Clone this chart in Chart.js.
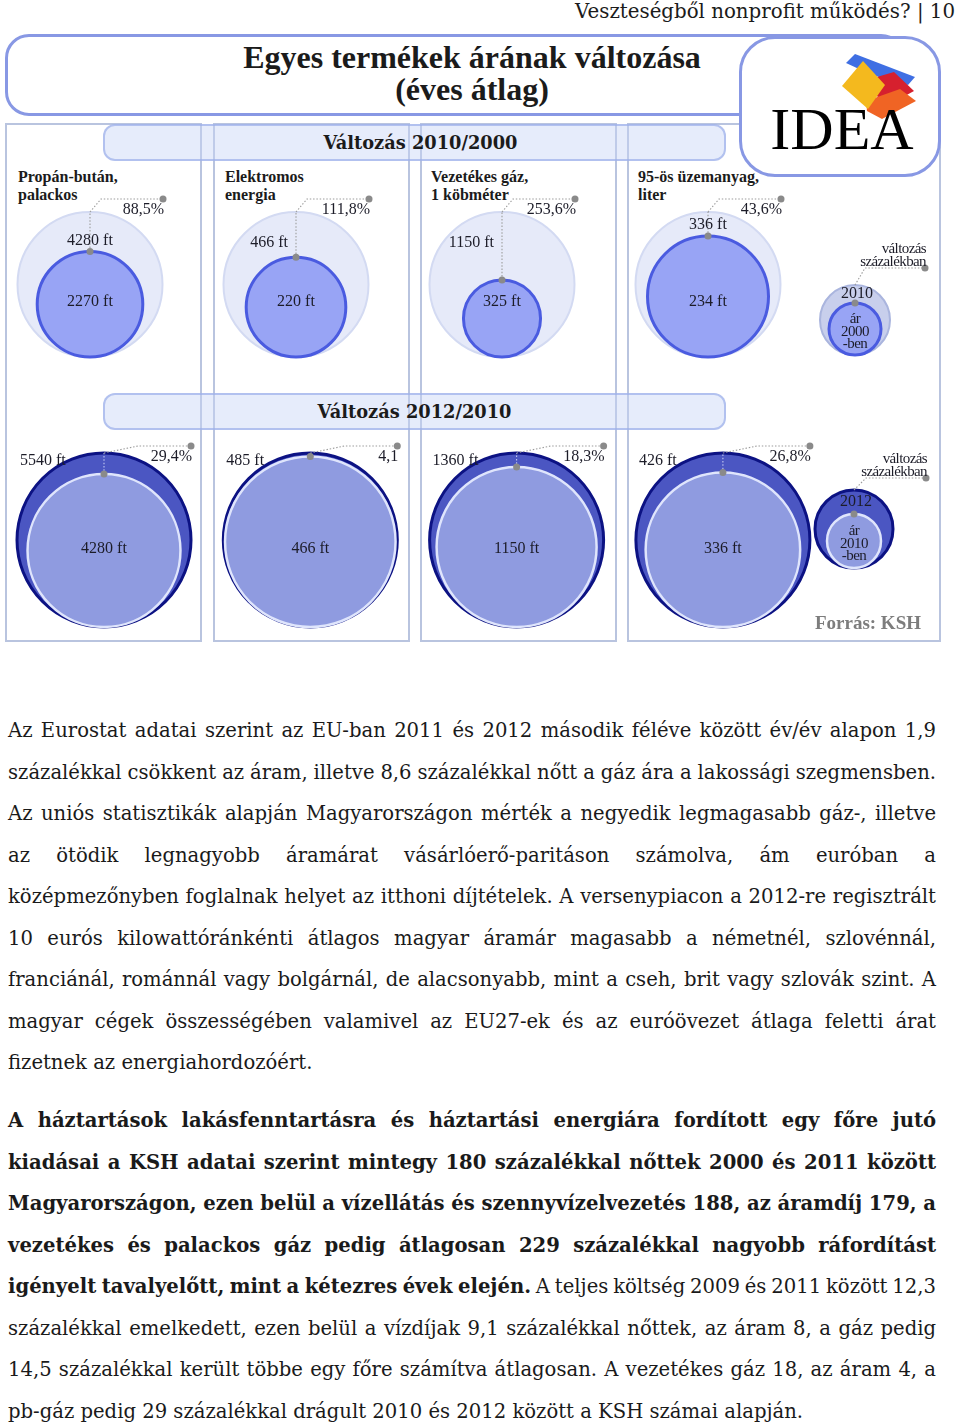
<!DOCTYPE html>
<html>
<head>
<meta charset="utf-8">
<script src="https://cdn.jsdelivr.net/npm/chart.js@4.4.0/dist/chart.umd.min.js"></script>
<style>
body{margin:0;background:#fff;}
#page{position:relative;width:960px;height:1425px;overflow:hidden;font-family:"Liberation Serif","DejaVu Serif",serif;color:#1b1b1b;}
.panel{position:absolute;top:123px;height:519px;border:2px solid #b9c4df;box-sizing:border-box;z-index:1;}
.band{position:absolute;left:103px;width:623px;height:37px;border:2px solid rgba(150,170,232,.65);background:rgba(200,212,246,.45);border-radius:12px;box-sizing:border-box;font-family:"DejaVu Serif",serif;font-weight:bold;font-size:17.8px;line-height:33px;text-align:center;z-index:3;}
.ptitle{position:absolute;top:168px;font-weight:bold;font-size:16px;line-height:18px;white-space:pre;z-index:2;}
.txt{position:absolute;left:8px;width:928px;font-family:"DejaVu Serif",serif;font-size:19.6px;line-height:41.5px;color:#1a1a1a;}
.txt div{white-space:nowrap;}
canvas{position:absolute;left:0;z-index:4;}
</style>
</head>
<body>
<div id="page">
  <div style="position:absolute;right:5px;top:0;font-family:'DejaVu Serif',serif;font-size:19.8px;line-height:24px;">Veszteségből nonprofit működés? | 10</div>

  <div style="position:absolute;left:5px;top:34px;width:900px;height:82px;border:3px solid #8898e4;border-radius:24px;box-sizing:border-box;background:#fff;z-index:5;"></div>
  <div style="position:absolute;left:5px;top:41px;width:934px;text-align:center;font-weight:bold;font-size:32px;line-height:32px;z-index:6;">Egyes termékek árának változása<br>(éves átlag)</div>

  <div style="position:absolute;left:739px;top:36px;width:202px;height:141px;border:3px solid #8898e4;border-radius:36px;box-sizing:border-box;background:#fff;z-index:7;">
    <div style="position:absolute;left:0;top:0;width:200px;height:100px;">
      <div style="position:absolute;inset:0;background:#3f6fe3;clip-path:polygon(104px 24px,113px 15px,173px 38px,166px 46px,130px 36px);"></div>
      <div style="position:absolute;inset:0;background:#d6202e;clip-path:polygon(128px 40px,152px 33px,172px 52px,150px 64px,132px 56px);"></div>
      <div style="position:absolute;inset:0;background:#f06424;clip-path:polygon(124px 62px,158px 50px,174px 62px,140px 80px,125px 72px);"></div>
      <div style="position:absolute;inset:0;background:#f4b91e;clip-path:polygon(100px 47px,121px 22px,143px 46px,126px 70px);"></div>
    </div>
    <div style="position:absolute;left:0;top:58px;width:200px;text-align:center;font-size:60px;line-height:64px;color:#000;">IDEA</div>
  </div>

  <div class="panel" style="left:5px;width:197px;"></div>
  <div class="panel" style="left:213px;width:197px;"></div>
  <div class="panel" style="left:420px;width:197px;"></div>
  <div class="panel" style="left:627px;width:314px;"></div>

  <div class="band" style="top:124px;padding-left:12px;">Változás 2010/2000</div>
  <div class="band" style="top:393px;">Változás 2012/2010</div>

  <div id="titles"></div>

  <canvas id="c1" width="960" height="215" style="top:165px;"></canvas>
  <canvas id="c2" width="960" height="210" style="top:435px;"></canvas>

  <div style="position:absolute;right:39px;top:611px;font-weight:bold;font-size:19px;line-height:24px;color:#7d7d7d;z-index:5;">Forrás: KSH</div>

  <div class="txt" style="top:710px;">
    <div class="j"><span>Az Eurostat adatai szerint az EU-ban 2011 és 2012 második féléve között év/év alapon 1,9</span></div>
    <div class="j"><span>százalékkal csökkent az áram, illetve 8,6 százalékkal nőtt a gáz ára a lakossági szegmensben.</span></div>
    <div class="j"><span>Az uniós statisztikák alapján Magyarországon mérték a negyedik legmagasabb gáz-, illetve</span></div>
    <div class="j"><span>az ötödik legnagyobb áramárat vásárlóerő-paritáson számolva, ám euróban a</span></div>
    <div class="j"><span>középmezőnyben foglalnak helyet az itthoni díjtételek. A versenypiacon a 2012-re regisztrált</span></div>
    <div class="j"><span>10 eurós kilowattóránkénti átlagos magyar áramár magasabb a németnél, szlovénnál,</span></div>
    <div class="j"><span>franciánál, románnál vagy bolgárnál, de alacsonyabb, mint a cseh, brit vagy szlovák szint. A</span></div>
    <div class="j"><span>magyar cégek összességében valamivel az EU27-ek és az euróövezet átlaga feletti árat</span></div>
    <div><span>fizetnek az energiahordozóért.</span></div>
  </div>
  <div class="txt" style="top:1100px;">
    <div class="j"><span><b>A háztartások lakásfenntartásra és háztartási energiára fordított egy főre jutó</b></span></div>
    <div class="j"><span><b>kiadásai a KSH adatai szerint mintegy 180 százalékkal nőttek 2000 és 2011 között</b></span></div>
    <div class="j"><span><b>Magyarországon, ezen belül a vízellátás és szennyvízelvezetés 188, az áramdíj 179, a</b></span></div>
    <div class="j"><span><b>vezetékes és palackos gáz pedig átlagosan 229 százalékkal nagyobb ráfordítást</b></span></div>
    <div class="j"><span><b>igényelt tavalyelőtt, mint a kétezres évek elején.</b> A teljes költség 2009 és 2011 között 12,3</span></div>
    <div class="j"><span>százalékkal emelkedett, ezen belül a vízdíjak 9,1 százalékkal nőttek, az áram 8, a gáz pedig</span></div>
    <div class="j"><span>14,5 százalékkal került többe egy főre számítva átlagosan. A vezetékes gáz 18, az áram 4, a</span></div>
    <div><span>pb-gáz pedig 29 százalékkal drágult 2010 és 2012 között a KSH számai alapján.</span></div>
  </div>
</div>

<script>
// adatok
const products  = ['Propán-bután,\npalackos', 'Elektromos\nenergia', 'Vezetékes gáz,\n1 köbméter', '95-ös üzemanyag,\nliter'];
const price2000 = [2270, 220, 325, 234];
const price2010 = [4280, 466, 1150, 336];
const price2012 = [5540, 485, 1360, 426];
const change2010 = ['88,5%', '111,8%', '253,6%', '43,6%'];
const change2012 = ['29,4%', '4,1', '18,3%', '26,8%'];

const FONT = '"Liberation Serif", "DejaVu Serif", serif';

// sorkizárt sorok
document.querySelectorAll('.j').forEach(d => {
  const span = d.firstElementChild;
  const w = span.getBoundingClientRect().width;
  const gaps = (span.textContent.match(/ /g) || []).length;
  d.style.wordSpacing = ((928 - w) / gaps) + 'px';
});

// termék címek
const panelLeft = [18, 225, 431, 638];
const titles = document.getElementById('titles');
products.forEach((p, i) => {
  const el = document.createElement('div');
  el.className = 'ptitle';
  el.style.left = panelLeft[i] + 'px';
  el.textContent = p;
  titles.appendChild(el);
});

const rows = [
  { id: 'c1', top: 165, height: 215, x0: 90, step: 206, base: 357, R: 72.5,
    outer: price2010, inner: price2000, change: change2010,
    outerFill: '#e6eaf9', outerLine: '#d3daf2', outerW: 2,
    innerFill: '#98a4f5', innerLine: '#4a5be0', innerW: 3, vLine: '#9c9c9c',
    legFill: '#c8cfec', legLine: '#aab5de',
    legX: 855, legBase: 355, legR: 35, legr: 26, legYear: '2010', legFrom: '2000',
    rise: 13, dx1: 11, end: 73, legRise: 17, legDx: 10, legEnd: 70,
    outerLabelY: 243, innerLabelY: 302, outerMode: 'right' },
  { id: 'c2', top: 435, height: 210, x0: 104, step: 206.3, base: 627, R: 87,
    outer: price2012, inner: price2010, change: change2012,
    outerFill: '#4b56c2', outerLine: '#0c1283', outerW: 3,
    innerFill: '#8f9be0', innerLine: '#dfe5fc', innerW: 2.5, vLine: 'rgba(225,230,252,0.8)',
    legFill: '#4b56c2', legLine: '#0c1283',
    legX: 854, legBase: 568, legR: 39, legr: 27, legYear: '2012', legFrom: '2010',
    rise: 7, dx1: 34, end: 87, legRise: 12, legDx: 12, legEnd: 72,
    outerLabelY: 461, innerLabelY: 549, outerMode: 'left' }
];

function makeAnnot(row) {
  return {
    id: 'annot_' + row.id,
    afterDatasetsDraw(chart) {
      const ctx = chart.ctx;
      const O = chart.getDatasetMeta(0).data, I = chart.getDatasetMeta(1).data;
      const dO = chart.data.datasets[0].data, dI = chart.data.datasets[1].data;
      const n = row.outer.length;
      ctx.save();
      ctx.textBaseline = 'middle';
      ctx.fillStyle = '#1c1c28';
      for (let i = 0; i < O.length; i++) {
        const leg = i === n;
        const cx = O[i].x, oTop = O[i].y - dO[i].r, iTop = I[i].y - dI[i].r;
        const rise = leg ? row.legRise : row.rise;
        const dx1 = leg ? row.legDx : row.dx1;
        const end = leg ? row.legEnd : row.end;
        const ly = oTop - rise;

        ctx.lineWidth = 1.1;
        ctx.setLineDash([1.5, 1.8]);
        if (!leg) {
          ctx.strokeStyle = row.vLine;
          ctx.beginPath(); ctx.moveTo(cx, iTop); ctx.lineTo(cx, oTop); ctx.stroke();
        }
        ctx.strokeStyle = '#9c9c9c';
        ctx.beginPath(); ctx.moveTo(cx, oTop); ctx.lineTo(cx + dx1, ly); ctx.lineTo(cx + end, ly); ctx.stroke();
        ctx.setLineDash([]);
        ctx.fillStyle = '#8a8a8a';
        ctx.beginPath(); ctx.arc(cx, iTop, 3.5, 0, Math.PI * 2); ctx.fill();
        ctx.beginPath(); ctx.arc(cx + end, ly, 3.5, 0, Math.PI * 2); ctx.fill();
        ctx.fillStyle = '#1c1c28';

        if (leg) {
          ctx.font = '15px ' + FONT;
          ctx.letterSpacing = '-0.6px';
          ctx.textAlign = 'right';
          ctx.fillText('változás', cx + end + 1, ly - 19);
          ctx.fillText('százalékban', cx + end + 1, ly - 6);
          ctx.textAlign = 'center';
          ctx.font = '16px ' + FONT;
          ctx.letterSpacing = '0px';
          ctx.fillText(row.legYear, cx + 2, (oTop + iTop) / 2);
          const ic = I[i].y;
          ctx.font = '15px ' + FONT;
          ctx.letterSpacing = '-0.5px';
          ctx.fillText('ár', cx, ic - 10);
          ctx.fillText(row.legFrom, cx, ic + 3);
          ctx.fillText('-ben', cx, ic + 15.5);
          ctx.letterSpacing = '0px';
          continue;
        }

        ctx.font = '16px ' + FONT;
        ctx.textAlign = 'right';
        ctx.fillText(row.change[i], cx + end + 1, ly + 11);

        const oy = row.outerLabelY - row.top;
        const outerTxt = row.outer[i] + ' ft';
        if (row.outerMode === 'left') {
          ctx.textAlign = 'left';
          ctx.fillText(outerTxt, cx - 84, oy);
        } else if (iTop < oy + 12) {
          ctx.textAlign = 'center';
          ctx.fillText(outerTxt, cx, iTop - 11);
        } else {
          ctx.textAlign = 'right';
          ctx.fillText(outerTxt, cx - 8, oy);
        }
        ctx.textAlign = 'center';
        ctx.fillText(row.inner[i] + ' ft', cx, row.innerLabelY - row.top);
      }
      ctx.restore();
    }
  };
}

rows.forEach(row => {
  const yb = row.top + row.height - row.base;       // alapvonal a vásznon (alulról)
  const ylb = row.top + row.height - row.legBase;
  const legIdx = (row.legX - row.x0) / row.step;
  const outerPts = row.outer.map((v, i) => ({ x: i, y: yb + row.R, r: row.R }));
  const innerPts = row.inner.map((v, i) => {
    const r = row.R * Math.sqrt(v / row.outer[i]);
    return { x: i, y: yb + r, r: r };
  });
  outerPts.push({ x: legIdx, y: ylb + row.legR, r: row.legR });
  innerPts.push({ x: legIdx, y: ylb + row.legr, r: row.legr });

  const n = row.outer.length;
  const xmin = -row.x0 / row.step;
  new Chart(document.getElementById(row.id), {
    type: 'bubble',
    data: {
      datasets: [
        { data: outerPts, clip: false, borderWidth: row.outerW, order: 2,
          backgroundColor: outerPts.map((p, i) => i === n ? row.legFill : row.outerFill),
          borderColor: outerPts.map((p, i) => i === n ? row.legLine : row.outerLine) },
        { data: innerPts, clip: false, borderWidth: row.innerW, order: 1,
          backgroundColor: row.innerFill, borderColor: row.innerLine }
      ]
    },
    options: {
      responsive: false, animation: false, events: [],
      layout: { padding: 0, autoPadding: false },
      plugins: { legend: { display: false }, tooltip: { enabled: false } },
      scales: {
        x: { type: 'linear', display: false, min: xmin, max: xmin + 960 / row.step },
        y: { type: 'linear', display: false, min: 0, max: row.height }
      }
    },
    plugins: [makeAnnot(row)]
  });
});
</script>
</body>
</html>
